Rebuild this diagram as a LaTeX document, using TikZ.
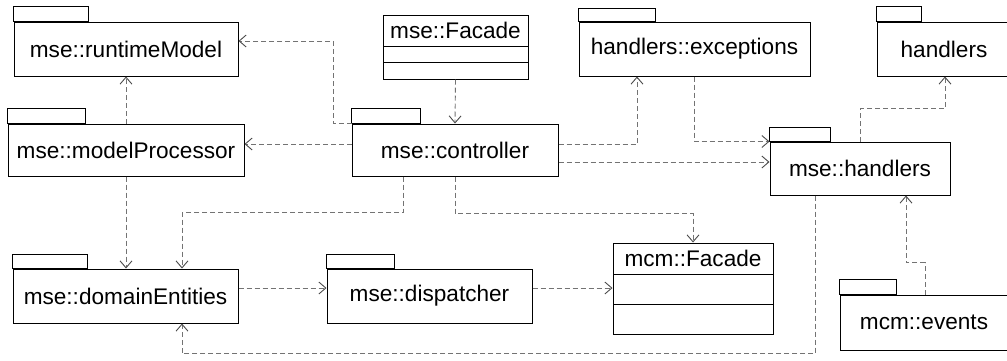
\documentclass[tikz,border=0pt]{standalone}
\usepackage{fontspec}
\setmainfont{Liberation Sans}
\usetikzlibrary{arrows.meta}
\begin{document}
\begin{tikzpicture}[x=1pt,y=-1pt,
  pkg/.style={draw=black,line width=1pt,fill=white,inner sep=0pt,font=\fontsize{22.6}{27}\selectfont},
  cls/.style={draw=black,line width=1pt,fill=white,inner sep=0pt},
  dep/.style={draw=black!55,line width=0.9pt,dash pattern=on 5pt off 3pt,
    -{Straight Barb[length=7pt,width=12pt,line width=0.9pt,color=black!70]}},
  tabbox/.style={draw=black,line width=1pt}]
\clip (0,0) rectangle (1007,360);
\fill[white] (0,0) rectangle (1007,360);
% packages
\node[pkg,minimum width=224pt,minimum height=54pt] (rm) at (126,49) {mse::runtimeModel};
\draw[tabbox] (rm.north west) rectangle ++(75,-15);
\node[pkg,minimum width=236pt,minimum height=52pt] (mp) at (126,150) {mse::modelProcessor};
\draw[tabbox] (mp.north west) rectangle ++(78,-15);
\node[pkg,minimum width=206pt,minimum height=52pt] (ctrl) at (455,150) {mse::controller};
\draw[tabbox] (ctrl.north west) rectangle ++(69,-15);
\node[pkg,minimum width=231pt,minimum height=54pt] (he) at (694.5,49) {handlers::exceptions};
\draw[tabbox] (he.north west) rectangle ++(77,-13);
\node[pkg,minimum width=180pt,minimum height=53pt] (mh) at (860,168.5) {mse::handlers};
\draw[tabbox] (mh.north west) rectangle ++(61,-14);
\node[pkg,minimum width=134pt,minimum height=54pt] (h) at (944,49) {handlers};
\draw[tabbox] (h.north west) rectangle ++(45,-15);
\node[pkg,minimum width=225pt,minimum height=54pt] (de) at (125.5,296) {mse::domainEntities};
\draw[tabbox] (de.north west) rectangle ++(75,-14);
\node[pkg,minimum width=205pt,minimum height=54pt] (dp) at (429.5,296) {mse::dispatcher};
\draw[tabbox] (dp.north west) rectangle ++(68,-14);
\node[pkg,minimum width=168pt,minimum height=55pt] (ev) at (924,322.5) {mcm::events};
\draw[tabbox] (ev.north west) rectangle ++(57,-15);
% classes
\node[cls,minimum width=145pt,minimum height=64pt] (mf) at (455.5,47) {};
\draw[line width=1pt] (383,46) -- (528,46) (383,62) -- (528,62);
\node[font=\fontsize{22.6}{27}\selectfont,inner sep=0pt] (mft) at (455.5,30.5) {mse::Facade};
\node[cls,minimum width=160pt,minimum height=91pt] (cf) at (693,288.5) {};
\draw[line width=1pt] (613,274) -- (773,274) (613,304) -- (773,304);
\node[font=\fontsize{22.6}{27}\selectfont,inner sep=0pt] (cft) at (693,258.5) {mcm::Facade};
% dependencies
\draw[dep] (ctrl.north west) -- ++(-18,0) |- ([yshift=8pt]rm.east);
\draw[dep] ([yshift=6pt]ctrl.west) -- ([yshift=6pt]ctrl.west -| mp.east);
\draw[dep] (mf.south) -- (ctrl.north);
\draw[dep] ([yshift=6pt]ctrl.east) -| ([xshift=-57.5pt]he.south);
\draw[dep] ([yshift=-12pt]ctrl.east) -- ([yshift=-12pt]ctrl.east -| mh.west);
\draw[dep] (he.south) |- (mh.north west);
\draw[dep] (mh.north) -- ++(0,-33) -| ([xshift=1pt]h.south);
\draw[dep] ([xshift=-45pt]mh.south) -- ++(0,158) -| ([xshift=56.5pt]de.south);
\draw[dep] ([xshift=1pt]ev.north) -- ++(0,-32) -| ([xshift=46pt]mh.south);
\draw[dep] (mp.south) -- (mp.south |- de.north);
\draw[dep] (mp.north) -- (mp.north |- rm.south);
\draw[dep] ([xshift=-52pt]ctrl.south) -- ++(0,36) -| ([xshift=56.5pt]de.north);
\draw[dep] (ctrl.south) -- ++(0,37) -| (cf.north);
\draw[dep] ([yshift=8pt]de.east) -- ([yshift=8pt]de.east -| dp.west);
\draw[dep] ([yshift=8pt]dp.east) -- ([yshift=8pt]dp.east -| cf.west);
\end{tikzpicture}
\end{document}
